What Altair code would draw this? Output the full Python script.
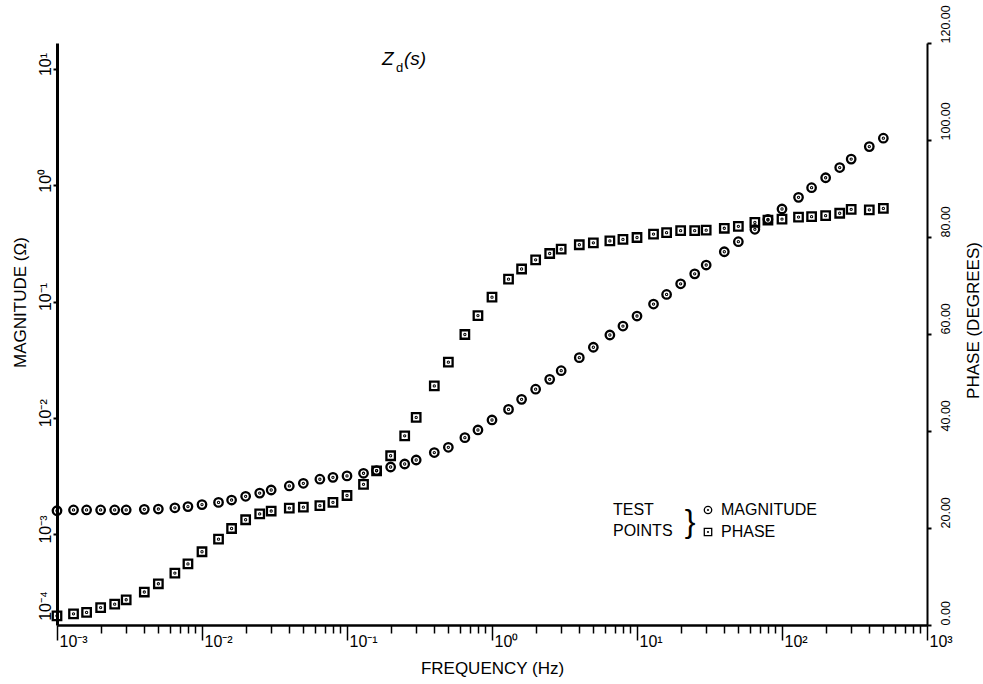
import json
import altair as alt
import pandas as pd

# ---------------- data ----------------
FREQ_HZ = [0.001, 0.0013, 0.0016, 0.002, 0.0025, 0.003, 0.004, 0.005, 0.0065, 0.008,
           0.01, 0.013, 0.016, 0.02, 0.025, 0.03, 0.04, 0.05, 0.065, 0.08,
           0.1, 0.13, 0.16, 0.2, 0.25, 0.3, 0.4, 0.5, 0.65, 0.8,
           1.0, 1.3, 1.6, 2.0, 2.5, 3.0, 4.0, 5.0, 6.5, 8.0,
           10, 13, 16, 20, 25, 30, 40, 50, 65, 80,
           100, 130, 160, 200, 250, 300, 400, 500]

MAGNITUDE_OHM = [1.585e-3, 1.61e-3, 1.61e-3, 1.61e-3, 1.61e-3, 1.61e-3, 1.63e-3, 1.64e-3, 1.68e-3, 1.72e-3,
                 1.79e-3, 1.87e-3, 1.96e-3, 2.11e-3, 2.25e-3, 2.39e-3, 2.59e-3, 2.73e-3, 2.96e-3, 3.07e-3,
                 3.16e-3, 3.33e-3, 3.51e-3, 3.77e-3, 4.00e-3, 4.33e-3, 5.02e-3, 5.57e-3, 6.74e-3, 7.85e-3,
                 9.57e-3, 1.18e-2, 1.44e-2, 1.76e-2, 2.14e-2, 2.54e-2, 3.29e-2, 4.04e-2, 5.15e-2, 6.15e-2,
                 7.50e-2, 9.51e-2, 0.115, 0.142, 0.173, 0.206, 0.268, 0.327, 0.418, 0.509,
                 0.625, 0.787, 0.953, 1.16, 1.42, 1.68, 2.15, 2.54]

PHASE_DEG = [1.9, 2.3, 2.6, 3.6, 4.3, 5.2, 6.8, 8.5, 10.7, 12.6,
             15.1, 17.7, 19.9, 21.7, 22.9, 23.5, 24.1, 24.3, 24.6, 25.3,
             26.7, 29.0, 31.8, 34.9, 39.0, 42.8, 49.3, 54.2, 59.9, 63.8,
             67.6, 71.3, 73.4, 75.3, 76.6, 77.5, 78.4, 78.8, 79.2, 79.5,
             79.9, 80.6, 80.9, 81.3, 81.3, 81.4, 81.8, 82.2, 83.0, 83.5,
             83.7, 84.1, 84.2, 84.4, 84.9, 85.7, 85.6, 85.9]

SERIES = ["MAGNITUDE", "PHASE"]
LEGEND_TITLE = ["TEST", "POINTS"]

X_TICKS = [1e-3, 1e-2, 1e-1, 1e0, 1e1, 1e2, 1e3]
X_TICK_LABELS = ["10⁻³", "10⁻²", "10⁻¹", "10⁰", "10¹", "10²", "10³"]
X_MINOR_TICKS = [m * d for d in X_TICKS[:-1] for m in range(2, 10)]

MAG_TICKS = [2.2e-4, 1e-3, 1e-2, 1e-1, 1e0, 1e1]
MAG_TICK_LABELS = ["10⁻⁴", "10⁻³", "10⁻²", "10⁻¹", "10⁰", "10¹"]
PHASE_TICKS = [0, 20, 40, 60, 80, 100, 120]

X_DOMAIN = [1e-3, 1e3]
MAG_DOMAIN = [1.649e-4, 16.74]
PHASE_DOMAIN = [0, 120]

FONT = "Liberation Sans"

# symbols: open circle / open square, each with a centre dot
CIRCLE_DOT = "M-1,0A1,1 0 1,1 1,0A1,1 0 1,1 -1,0Z M-0.12,0A0.12,0.12 0 1,1 0.12,0A0.12,0.12 0 1,1 -0.12,0Z"
SQUARE_DOT = "M-1,-1H1V1H-1Z M-0.12,0A0.12,0.12 0 1,1 0.12,0A0.12,0.12 0 1,1 -0.12,0Z"

mag_df = pd.DataFrame({"freq": FREQ_HZ, "value": MAGNITUDE_OHM, "series": SERIES[0]})
phase_df = pd.DataFrame({"freq": FREQ_HZ, "value": PHASE_DEG, "series": SERIES[1]})

shape_scale = alt.Scale(domain=SERIES, range=[CIRCLE_DOT, SQUARE_DOT])
legend = alt.Legend(
    title=LEGEND_TITLE, orient="none", legendX=556, legendY=459,
    titleOrient="left", titleFont=FONT, titleFontSize=16, titleFontWeight="normal",
    titleLineHeight=21, titlePadding=27, titleAnchor="start", titleBaseline="top",
    titleAlign="left", titleColor="black",
    labelFont=FONT, labelFontSize=16, labelOffset=5, labelColor="black",
    symbolSize=55, symbolStrokeWidth=1.3, symbolStrokeColor="black",
    symbolFillColor="transparent", rowPadding=6, padding=0,
)

x_label_expr = f"{json.dumps(X_TICK_LABELS, ensure_ascii=False)}[round(log(datum.value)/LN10)+3]"
mag_label_expr = f"{json.dumps(MAG_TICK_LABELS, ensure_ascii=False)}[round(log(datum.value)/LN10)+4]"

point_style = dict(filled=False, color="black", strokeWidth=2.3, size=72, opacity=1)

mag_points = alt.Chart(mag_df).mark_point(**point_style).encode(
    x=alt.X("freq:Q", scale=alt.Scale(type="log", domain=X_DOMAIN, nice=False),
            axis=alt.Axis(orient="bottom", values=X_TICKS, labelExpr=x_label_expr,
                          tickSize=15, tickWidth=1.5, tickColor="black",
                          domainWidth=2.5, domainColor="black",
                          labelFont=FONT, labelFontSize=16, labelColor="black",
                          labelAlign="left", labelBaseline="alphabetic", labelPadding=6,
                          labelOffset=2, labelFlush=False, labelOverlap=False, labelBound=False,
                          title="FREQUENCY (Hz)", titleFont=FONT, titleFontSize=17,
                          titleFontWeight="normal", titleColor="black",
                          titleBaseline="alphabetic", titleY=48, grid=False)),
    y=alt.Y("value:Q", scale=alt.Scale(type="log", domain=MAG_DOMAIN, nice=False),
            axis=alt.Axis(orient="left", values=MAG_TICKS, labelExpr=mag_label_expr,
                          tickSize=4, tickWidth=2,
                          tickColor={"condition": {"test": "datum.value < 0.0005", "value": "transparent"},
                                     "value": "black"},
                          domainWidth=3, domainColor="black",
                          labelFont=FONT, labelFontSize=16, labelColor="black",
                          labelAngle=270, labelAlign="center", labelBaseline="alphabetic",
                          labelPadding=3, labelOffset=-5, labelFlush=False, labelOverlap=False,
                          labelBound=False,
                          title="MAGNITUDE (Ω)", titleFont=FONT, titleFontSize=17,
                          titleFontWeight="normal", titleColor="black", titleAngle=270,
                          titleAlign="center", titleBaseline="alphabetic", titleX=-32, titleY=259,
                          grid=False)),
    shape=alt.Shape("series:N", scale=shape_scale, legend=legend),
)

phase_points = alt.Chart(phase_df).mark_point(**point_style).encode(
    x=alt.X("freq:Q", scale=alt.Scale(type="log", domain=X_DOMAIN, nice=False),
            axis=alt.Axis(orient="bottom", values=X_MINOR_TICKS, labels=False, domain=False,
                          tickSize=8, tickWidth=1.5, tickColor="black", title=None, grid=False)),
    y=alt.Y("value:Q", scale=alt.Scale(type="linear", domain=PHASE_DOMAIN, nice=False),
            axis=alt.Axis(orient="right", values=PHASE_TICKS, format=".2f",
                          tickSize=4, tickWidth=2, tickColor="black",
                          domainWidth=2, domainColor="black",
                          labelFont=FONT, labelFontSize=12.5, labelColor="black",
                          labelAngle=270, labelAlign="left", labelBaseline="top",
                          labelPadding=8, labelFlush=False, labelOverlap=False, labelBound=False,
                          title="PHASE (DEGREES)", titleFont=FONT, titleFontSize=17,
                          titleFontWeight="normal", titleColor="black", titleAngle=270,
                          titleAlign="center", titleBaseline="alphabetic", titleX=51, titleY=277,
                          grid=False)),
    shape=alt.Shape("series:N", scale=shape_scale, legend=legend),
)


def note(text, f, deg, **style):
    """Annotation anchored in data space (frequency, phase)."""
    return alt.Chart(pd.DataFrame({"label": [text]})).mark_text(
        font=FONT, color="black", **style
    ).encode(x=alt.datum(f), y=alt.datum(deg), text="label:N")


title_z = note("Z", 0.1743, 115.5, fontSize=19, fontStyle="italic", align="left", baseline="alphabetic")
title_d = note("d", 0.2178, 114.0, fontSize=13, align="left", baseline="alphabetic")
title_s = note("(s)", 0.2472, 115.5, fontSize=19, fontStyle="italic", align="left", baseline="alphabetic")
brace = note("}", 23.2, 21.2, fontSize=32, align="center", baseline="middle")

mag_group = alt.layer(mag_points)
phase_group = alt.layer(phase_points, title_z, title_d, title_s, brace)

chart = alt.layer(mag_group, phase_group).resolve_scale(
    x="independent", y="independent"
).properties(
    width=870, height=582,
    padding={"left": 57, "top": 43, "right": 56, "bottom": 59},
    autosize=alt.AutoSizeParams(type="none"),
    background="white",
).configure_view(stroke=None)

chart.save("out.html", embed_options={"renderer": "svg", "actions": False})
